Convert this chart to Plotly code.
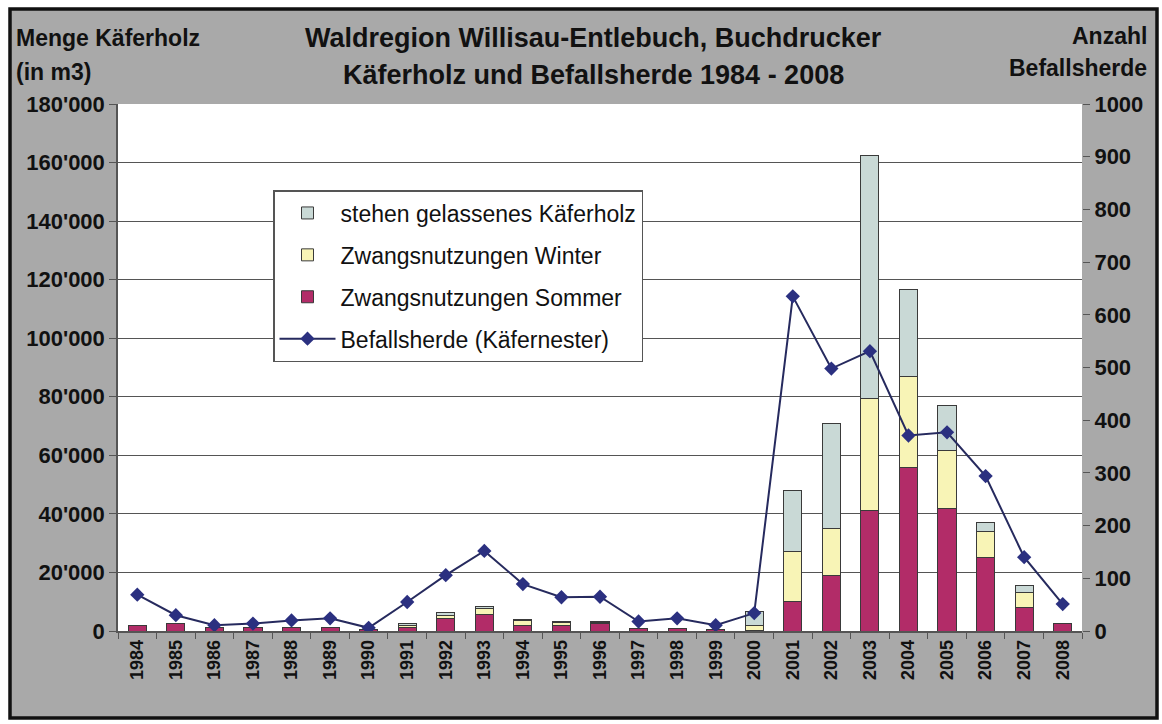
import plotly.graph_objects as go

years = [str(y) for y in range(1984, 2009)]
sommer = [1800, 2400, 1100, 1100, 1200, 1100, 500, 1200, 4200, 5500, 2000, 1800, 2600,
          800, 800, 600, 300, 10000, 19000, 41000, 56000, 42000, 25000, 8000, 2500]
winter = [None, None, None, None, None, None, None, 800, 1100, 2300, 1500, 1000, 300,
          None, None, None, 1500, 17000, 16000, 38500, 31000, 19500, 9000, 5000, None]
stehen = [None, None, None, None, None, None, None, 700, 900, 600, 600, 600, 500,
          None, None, None, 5000, 21000, 36000, 83000, 29500, 15500, 3000, 2500, None]
herde = [69, 30, 11, 14, 20, 24, 6, 55, 106, 152, 89, 64, 65, 18, 24, 11, 34,
         635, 498, 531, 371, 377, 294, 140, 51]

FONT = "Liberation Sans, Arial, sans-serif"
W, H = 1162, 724
L, R, T, B = 118, 80, 104, 93
PW, PH = W - L - R, H - T - B

def px(x):
    return (x - L) / PW

def py(y):
    return (H - B - y) / PH

fig = go.Figure()
outline = dict(color="#3a3a3a", width=1)
fig.add_trace(go.Bar(x=years, y=sommer, name="Zwangsnutzungen Sommer",
                     marker=dict(color="#b22c68", line=outline), legendrank=3,
                     legendgroup="c"))
fig.add_trace(go.Bar(x=years, y=winter, name="Zwangsnutzungen Winter",
                     marker=dict(color="#f8f4b6", line=outline), legendrank=2,
                     legendgroup="b"))
fig.add_trace(go.Bar(x=years, y=stehen, name="stehen gelassenes Käferholz",
                     marker=dict(color="#c9d9d6", line=outline), legendrank=1,
                     legendgroup="a"))
fig.add_trace(go.Scatter(x=years, y=herde, name="Befallsherde (Käfernester)", yaxis="y2",
                         mode="lines+markers",
                         line=dict(color="#262a5e", width=2),
                         marker=dict(symbol="diamond", size=11, color="#2b3080"),
                         legendrank=4, legendgroup="d"))

tickfont = dict(family=FONT, size=22, color="#111", weight="bold")
labfont = dict(family=FONT, size=23, color="#111", weight="bold")
titfont = dict(family=FONT, size=27, color="#111", weight="bold")
fig.update_layout(
    width=W, height=H,
    margin=dict(l=L, r=R, t=T, b=B),
    paper_bgcolor="white", plot_bgcolor="white",
    separators=".'",
    barmode="stack", bargap=0.53,
    showlegend=True,
    legend=dict(x=px(273), y=py(190), xanchor="left", yanchor="top",
                bgcolor="white", bordercolor="#555", borderwidth=1.5,
                font=dict(family=FONT, size=23, color="#111"),
                itemwidth=56,
                traceorder="grouped", tracegroupgap=9),
    xaxis=dict(type="category", range=[-0.5, 24.5], tickangle=-90, ticks="outside",
               ticklen=6, tickcolor="#555", tickson="boundaries", showgrid=False,
               showline=True, linecolor="#555", linewidth=1.5,
               tickfont=dict(family=FONT, size=18, color="#111", weight="bold")),
    yaxis=dict(range=[0, 180000], dtick=20000, tickformat=",d", ticks="outside",
               ticklen=7, tickcolor="#555", showgrid=True, gridcolor="#555",
               gridwidth=1.3, showline=True, linecolor="#555", linewidth=1.5,
               zeroline=False, tickfont=tickfont),
    yaxis2=dict(range=[0, 1000], dtick=100, overlaying="y", side="right",
                ticks="outside", ticklen=7, tickcolor="#555", showgrid=False,
                showline=False, zeroline=False, tickfont=tickfont),
    shapes=[
        dict(type="rect", xref="paper", yref="paper", layer="below",
             x0=px(10), x1=px(1157), y0=py(718), y1=py(9),
             fillcolor="#a9a9a9", line=dict(color="#111", width=3.5)),
        dict(type="rect", xref="paper", yref="paper", layer="below",
             x0=0, x1=1, y0=0, y1=1, fillcolor="white", line=dict(width=0)),
    ],
    annotations=[
        dict(text="Waldregion Willisau-Entlebuch, Buchdrucker", x=px(593), y=py(38),
             xref="paper", yref="paper", showarrow=False, xanchor="center", yanchor="middle",
             font=titfont),
        dict(text="Käferholz und Befallsherde 1984 - 2008", x=px(593), y=py(75),
             xref="paper", yref="paper", showarrow=False, xanchor="center", yanchor="middle",
             font=titfont),
        dict(text="Menge Käferholz", x=px(14), y=py(38), xref="paper", yref="paper",
             showarrow=False, xanchor="left", yanchor="middle", font=labfont),
        dict(text="(in m3)", x=px(14), y=py(72), xref="paper", yref="paper",
             showarrow=False, xanchor="left", yanchor="middle", font=labfont),
        dict(text="Anzahl", x=px(1149), y=py(36), xref="paper", yref="paper",
             showarrow=False, xanchor="right", yanchor="middle", font=labfont),
        dict(text="Befallsherde", x=px(1149), y=py(68), xref="paper", yref="paper",
             showarrow=False, xanchor="right", yanchor="middle", font=labfont),
    ],
)

fig.write_html("out.html", config={"displayModeBar": False},
               post_script="document.body.style.margin='0';document.body.style.overflow='hidden';")
